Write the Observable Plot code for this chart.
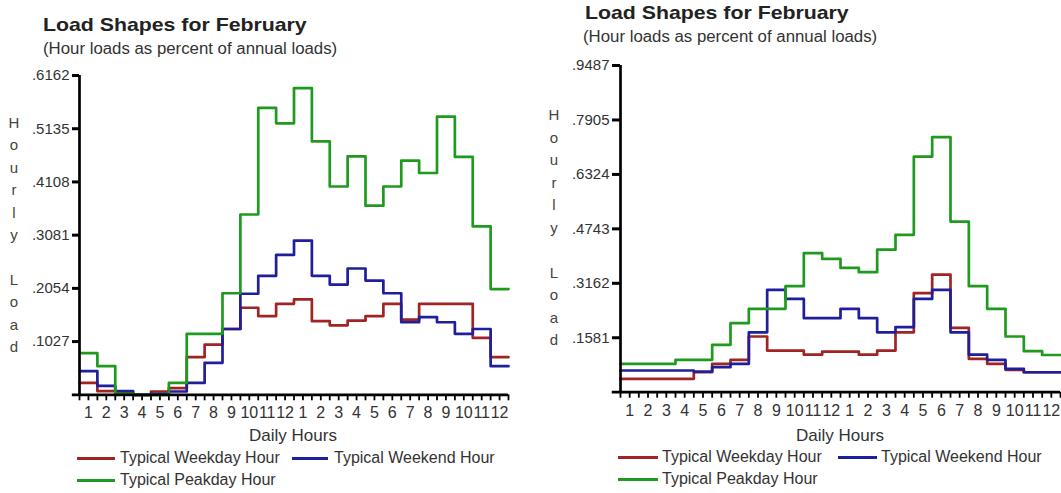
<!DOCTYPE html>
<html>
<head>
<meta charset="utf-8">
<script src="https://cdn.jsdelivr.net/npm/d3@7"></script>
<script src="https://cdn.jsdelivr.net/npm/@observablehq/plot@0.6"></script>
<style>
  html, body { margin: 0; padding: 0; background: #fff; }
  #root { position: relative; width: 1061px; height: 493px; overflow: hidden; font-family: "Liberation Sans", Arial, sans-serif; color: #2a2a2a; }
  .abs { position: absolute; white-space: nowrap; }
  .title { font-weight: bold; font-size: 19px; transform: scaleX(1.12); transform-origin: left center; line-height: 20px; color: #222; }
  .sub { font-size: 16px; transform: scaleX(1.05); transform-origin: left center; line-height: 18px; color: #333; }
  .ylet { font-size: 15px; line-height: 16px; width: 20px; text-align: center; color: #444; }
  .xlab { font-size: 17px; line-height: 18px; color: #333; transform: translateX(-50%); }
  .leg { font-size: 16px; line-height: 18px; color: #333; }
  .sw { position: absolute; height: 3px; }
</style>
</head>
<body>
<div id="root"></div>
<script>
// ---------- data ----------
const hourLabels = ["1","2","3","4","5","6","7","8","9","10","11","12","1","2","3","4","5","6","7","8","9","10","11","12"];
const seriesNames = ["Typical Weekday Hour", "Typical Weekend Hour", "Typical Peakday Hour"];
const seriesColors = ["#a02424", "#1f1f9c", "#1f9a1f"];

const titleText = "Load Shapes for February";
const subtitleText = "(Hour loads as percent of annual loads)";
const yAxisLetters = ["H","o","u","r","l","y"," ","L","o","a","d"];
const xAxisTitle = "Daily Hours";

// left panel
const leftYTicks = [0, 0.1027, 0.2054, 0.3081, 0.4108, 0.5135, 0.6162];
const leftYTickLabels = ["", ".1027", ".2054", ".3081", ".4108", ".5135", ".6162"];
const leftWeekday = [0.023, 0.007, 0.005, 0, 0.0064, 0.0129, 0.0727, 0.097, 0.127, 0.168, 0.152, 0.1755, 0.184, 0.142, 0.134, 0.143, 0.152, 0.1755, 0.145, 0.1755, 0.1755, 0.1755, 0.11, 0.0727];
const leftWeekend = [0.0457, 0.0174, 0.007, 0, 0.002, 0.0064, 0.023, 0.0617, 0.127, 0.195, 0.2296, 0.27, 0.2977, 0.2296, 0.2128, 0.2437, 0.2205, 0.196, 0.140, 0.150, 0.140, 0.1177, 0.127, 0.0553];
const leftPeakday = [0.0804, 0.0553, 0.002, 0, 0, 0.023, 0.1177, 0.1177, 0.196, 0.348, 0.5537, 0.524, 0.5917, 0.489, 0.402, 0.46, 0.365, 0.402, 0.452, 0.428, 0.537, 0.459, 0.325, 0.204];

// right panel
const rightYTicks = [0, 0.1581, 0.3162, 0.4743, 0.6324, 0.7905, 0.9487];
const rightYTickLabels = ["", ".1581", ".3162", ".4743", ".6324", ".7905", ".9487"];
const rightWeekday = [0.0387, 0.0387, 0.0387, 0.0387, 0.058, 0.0823, 0.094, 0.1617, 0.121, 0.121, 0.109, 0.118, 0.118, 0.109, 0.121, 0.174, 0.2875, 0.3417, 0.187, 0.0968, 0.0823, 0.065, 0.058, 0.058];
const rightWeekend = [0.063, 0.063, 0.063, 0.063, 0.06, 0.0726, 0.0823, 0.174, 0.297, 0.271, 0.215, 0.215, 0.242, 0.215, 0.174, 0.189, 0.271, 0.297, 0.174, 0.109, 0.094, 0.0678, 0.058, 0.058];
const rightPeakday = [0.0823, 0.0823, 0.0823, 0.094, 0.094, 0.1375, 0.2004, 0.242, 0.242, 0.308, 0.4037, 0.387, 0.361, 0.3485, 0.414, 0.457, 0.684, 0.7405, 0.4956, 0.308, 0.242, 0.1617, 0.119, 0.108];

// ---------- drawing ----------
const root = document.getElementById("root");
function addDiv(cls, text, left, top, extra) {
  const d = document.createElement("div");
  d.className = "abs " + cls;
  d.textContent = text;
  d.style.left = left + "px";
  d.style.top = top + "px";
  if (extra) Object.assign(d.style, extra);
  root.appendChild(d);
  return d;
}

function steps(values) {
  const pts = values.map((v, i) => ({x: i, y: v}));
  pts.push({x: values.length, y: values[values.length - 1]});
  return pts;
}

function panel(cfg) {
  const halfTicks = d3.range(0, 24.001, 0.5);
  const centers = hourLabels.map((_, i) => i + 0.5);
  const plot = Plot.plot({
    width: cfg.width,
    height: cfg.height,
    marginLeft: cfg.ml,
    marginRight: cfg.mr,
    marginTop: cfg.mt,
    marginBottom: cfg.mb,
    x: {domain: [0, 24]},
    y: {domain: [0, cfg.yTicks[cfg.yTicks.length - 1]]},
    style: {fontFamily: '"Liberation Sans", Arial, sans-serif', fontSize: "15px", color: "#333", background: "transparent", overflow: "visible"},
    marks: [
      Plot.axisY({ticks: cfg.yTicks.slice(1), tickSize: cfg.yTickSize, tickPadding: 3, strokeWidth: 3, stroke: "#000",
        tickFormat: d => cfg.yLabels[cfg.yTicks.indexOf(d)], label: null, fontSize: 15, fill: "#333"}),
      Plot.axisX({ticks: halfTicks, tickSize: 6, strokeWidth: 1.8, stroke: "#000", tickFormat: () => "", label: null}),
      Plot.axisX({ticks: centers, tickSize: 0, tickPadding: 12, tickFormat: d => hourLabels[Math.floor(d)], label: null, fontSize: 16, fill: "#333"}),
      ...cfg.series.map((vals, k) => Plot.line(steps(vals), {x: "x", y: "y", curve: "step-after", stroke: seriesColors[k], strokeWidth: 2.7})),
      Plot.ruleX([0], {y1: 0, y2: cfg.yTicks[cfg.yTicks.length - 1], stroke: "#000", strokeWidth: 2.7}),
      Plot.ruleY([0], {x1: cfg.axisOverhang, x2: 24, stroke: "#000", strokeWidth: 2.7})
    ]
  });
  plot.style.position = "absolute";
  plot.style.left = cfg.left + "px";
  plot.style.top = cfg.top + "px";
  root.appendChild(plot);
}

// Left panel
panel({left: 0, top: 60, width: 530, height: 365, ml: 79, mr: 22, mt: 15, mb: 30.7, yTickSize: 7, axisOverhang: -0.4,
  yTicks: leftYTicks, yLabels: leftYTickLabels, series: [leftWeekday, leftWeekend, leftPeakday]});
// Right panel
panel({left: 540, top: 50, width: 521, height: 370, ml: 80, mr: 1, mt: 15, mb: 28.3, yTickSize: 8, axisOverhang: -0.45,
  yTicks: rightYTicks, yLabels: rightYTickLabels, series: [rightWeekday, rightWeekend, rightPeakday]});

// Titles
addDiv("title", titleText, 43, 15);
addDiv("sub", subtitleText, 43, 40);
addDiv("title", titleText, 585, 3);
addDiv("sub", subtitleText, 583, 28);

// Vertical letters
yAxisLetters.forEach((ch, i) => {
  if (ch.trim() === "") return;
  addDiv("ylet", ch, 4, 123 + 22.4 * i - 8);
  addDiv("ylet", ch, 544, 115 + 22.5 * i - 8);
});

// X axis titles
addDiv("xlab", xAxisTitle, 293, 427);
addDiv("xlab", xAxisTitle, 840, 427);

// Legends
function legend(items) {
  items.forEach(it => {
    const sw = document.createElement("div");
    sw.className = "sw";
    sw.style.left = it.x1 + "px";
    sw.style.width = (it.x2 - it.x1) + "px";
    sw.style.top = (it.y - 1.5) + "px";
    sw.style.background = seriesColors[it.k];
    root.appendChild(sw);
    addDiv("leg", seriesNames[it.k], it.tx, it.y - 9);
  });
}
legend([
  {k: 0, x1: 77, x2: 115, tx: 120, y: 458},
  {k: 1, x1: 292, x2: 328, tx: 334, y: 458},
  {k: 2, x1: 77, x2: 115, tx: 120, y: 480},
  {k: 0, x1: 618, x2: 658, tx: 662, y: 457},
  {k: 1, x1: 838, x2: 877, tx: 881, y: 457},
  {k: 2, x1: 618, x2: 658, tx: 662, y: 479}
]);
</script>
</body>
</html>
